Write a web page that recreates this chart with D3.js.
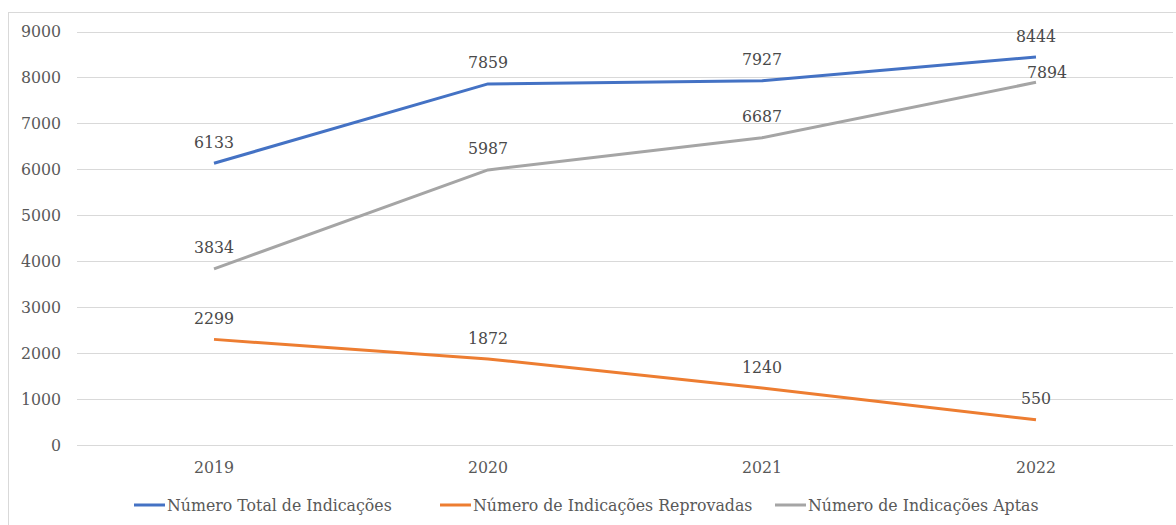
<!DOCTYPE html>
<html>
<head>
<meta charset="utf-8">
<script src="https://cdn.jsdelivr.net/npm/d3@7"></script>
<style>
  html, body { margin: 0; padding: 0; background: #fff; }
  svg { display: block; }
</style>
</head>
<body>
<svg id="chart" width="1176" height="525"></svg>
<script>
// data
const years = ["2019", "2020", "2021", "2022"];
const total = [6133, 7859, 7927, 8444];
const reprovadas = [2299, 1872, 1240, 550];
const aptas = [3834, 5987, 6687, 7894];
const yTicks = [0, 1000, 2000, 3000, 4000, 5000, 6000, 7000, 8000, 9000];
const seriesNames = ["Número Total de Indicações", "Número de Indicações Reprovadas", "Número de Indicações Aptas"];

const colors = ["#4472C4", "#ED7D31", "#A5A5A5"];
const allSeries = [total, reprovadas, aptas];
const FONT = "'DejaVu Serif'";

const svg = d3.select("#chart");
const W = 1176, H = 525;

// pick a font size so the first legend entry is as wide as in the original (~225px)
const probe = svg.append("text").attr("font-family", FONT).attr("font-size", 20).text(seriesNames[0]);
const FS = Math.min(20, 20 * 225 / probe.node().getComputedTextLength());
probe.remove();

// outer chart frame
svg.append("rect")
  .attr("x", 8.5).attr("y", 12.5)
  .attr("width", W + 10).attr("height", H + 10)
  .attr("fill", "none").attr("stroke", "#d9d9d9").attr("stroke-width", 1);

const x = d3.scaleBand().domain(years).range([77, 1173]);
const y = d3.scaleLinear().domain([0, 9000]).range([445, 31.5]);

// gridlines
svg.append("g")
  .selectAll("line")
  .data(yTicks)
  .join("line")
  .attr("x1", 77).attr("x2", 1173)
  .attr("y1", d => Math.round(y(d)) + 0.5)
  .attr("y2", d => Math.round(y(d)) + 0.5)
  .attr("stroke", "#d9d9d9").attr("stroke-width", 1);

// y axis labels
const yAxis = d3.axisLeft(y).tickValues(yTicks).tickFormat(d3.format("d")).tickSize(0).tickPadding(0);
const gy = svg.append("g").attr("transform", "translate(61,0)").call(yAxis);
gy.select(".domain").remove();
gy.selectAll("text").attr("dy", "0.34em");

// x axis labels
const xAxis = d3.axisBottom(x).tickSize(0).tickPadding(0);
const gx = svg.append("g").attr("transform", "translate(0,464)").call(xAxis);
gx.select(".domain").remove();
gx.selectAll("text").attr("dy", "0.6em");

[gy, gx].forEach(g => g.attr("font-family", FONT).attr("font-size", FS));
svg.selectAll(".tick text").attr("fill", "#595959");

const line = d3.line()
  .x((d, i) => x(years[i]) + x.bandwidth() / 2)
  .y(d => y(d));

allSeries.forEach((vals, s) => {
  svg.append("path")
    .datum(vals)
    .attr("fill", "none")
    .attr("stroke", colors[s])
    .attr("stroke-width", 3)
    .attr("stroke-linejoin", "round")
    .attr("d", line);
});

// data labels (one label nudged to avoid overlap, as in the original)
const nudge = { "2-3": [11, 11] };
allSeries.forEach((vals, s) => {
  svg.append("g")
    .attr("font-family", FONT)
    .attr("font-size", FS)
    .attr("fill", "#4a4a4a")
    .selectAll("text")
    .data(vals)
    .join("text")
    .attr("x", (d, i) => x(years[i]) + x.bandwidth() / 2 + ((nudge[s + "-" + i] || [0, 0])[0]))
    .attr("y", (d, i) => y(d) - 21 + ((nudge[s + "-" + i] || [0, 0])[1]))
    .attr("dy", "0.35em")
    .attr("text-anchor", "middle")
    .text(d => d);
});

// legend
const legendX = [134, 440, 775];
const lg = svg.append("g")
  .attr("font-family", FONT)
  .attr("font-size", FS)
  .attr("fill", "#595959");
seriesNames.forEach((name, s) => {
  lg.append("line")
    .attr("x1", legendX[s]).attr("x2", legendX[s] + 31)
    .attr("y1", 505).attr("y2", 505)
    .attr("stroke", colors[s]).attr("stroke-width", 3);
  lg.append("text")
    .attr("x", legendX[s] + 33).attr("y", 505)
    .attr("dy", "0.35em")
    .text(name);
});
</script>
</body>
</html>
